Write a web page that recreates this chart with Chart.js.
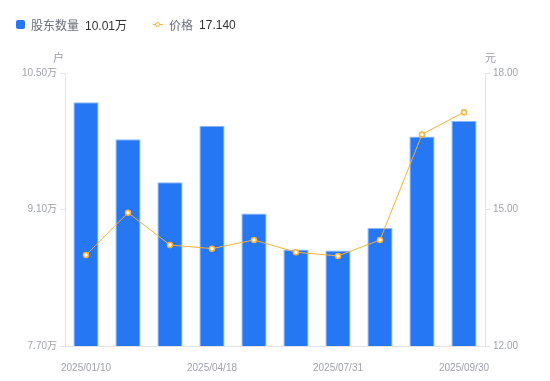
<!DOCTYPE html>
<html>
<head>
<meta charset="utf-8">
<script src="https://cdn.jsdelivr.net/npm/chart.js@4.4.1/dist/chart.umd.min.js"></script>
<style>
  html, body { margin: 0; padding: 0; background: #fff; }
  #wrap { position: relative; width: 550px; height: 381px; font-family: "Liberation Sans", "Noto Sans CJK SC", Arial, sans-serif; }
  #c { position: absolute; left: 0; top: 0; }
  #legend { position: absolute; left: 16px; top: 16px; font-size: 12px; display: flex; align-items: center; white-space: nowrap; }
  .item { display: flex; align-items: center; margin-right: 26px; }
  .name { color: #6b6e78; margin-right: 6px; font-family: "Noto Sans CJK SC", sans-serif; }
  .val { color: #333; }
  .sq { width: 9px; height: 9px; border-radius: 2px; background: #2677f3; margin-right: 6px; }
  .ln { position: relative; width: 10px; height: 9px; margin-right: 6px; }
  .ln::before { content: ""; position: absolute; left: 0; right: 0; top: 4px; height: 1px; background: #f9b034; }
  .ln::after { content: ""; position: absolute; left: 2px; top: 1.5px; width: 3px; height: 3px; border: 1.5px solid #f9b034; border-radius: 50%; background: #fff; }
  .axname { position: absolute; font-size: 11px; color: #9a9ca8; font-family: "Noto Sans CJK SC", sans-serif; }
</style>
</head>
<body>
<div id="wrap">
  <canvas id="c" width="550" height="381"></canvas>
  <div id="legend"></div>
  <div class="axname" id="nameL" style="left:53px;top:49px;"></div>
  <div class="axname" id="nameR" style="left:485px;top:49px;"></div>
</div>
<script>
// ---- data ----
const dates = ['2025/01/10','2025/02/28','2025/03/20','2025/04/18','2025/05/30','2025/06/30','2025/07/31','2025/08/20','2025/09/10','2025/09/30'];
const shownDates = ['2025/01/10','2025/04/18','2025/07/31','2025/09/30'];
const holders = [10.20, 9.82, 9.38, 9.96, 9.06, 8.69, 8.68, 8.91, 9.85, 10.01]; // 万户
const price = [14.00, 14.93, 14.22, 14.14, 14.33, 14.06, 13.98, 14.33, 16.65, 17.14];
const leftTicks = [7.70, 9.10, 10.50];
const rightTicks = [12.00, 15.00, 18.00];
const seriesNames = ['股东数量', '价格'];
const axisNames = ['户', '元'];

// ---- legend & axis names (HTML text) ----
document.getElementById('legend').innerHTML =
  '<div class="item"><span class="sq"></span><span class="name">' + seriesNames[0] + '</span><span class="val">' + holders[holders.length-1].toFixed(2) + '万</span></div>' +
  '<div class="item"><span class="ln"></span><span class="name">' + seriesNames[1] + '</span><span class="val">' + price[price.length-1].toFixed(3) + '</span></div>';
document.getElementById('nameL').textContent = axisNames[0];
document.getElementById('nameR').textContent = axisNames[1];

const tickColor = '#a0a2ad';
const axisColor = '#e3e3e6';
const tickFont = { family: '"Liberation Sans", "Noto Sans CJK SC", Arial, sans-serif', size: 10 };

new Chart(document.getElementById('c'), {
  data: {
    labels: dates,
    datasets: [
      {
        type: 'line',
        label: seriesNames[1],
        data: price,
        yAxisID: 'yR',
        borderColor: '#f9b034',
        borderWidth: 1,
        pointRadius: 2.5,
        pointBorderWidth: 1.5,
        pointBackgroundColor: '#ffffff',
        pointBorderColor: '#f9b034',
        tension: 0,
        order: 0
      },
      {
        type: 'bar',
        label: seriesNames[0],
        data: holders,
        yAxisID: 'yL',
        backgroundColor: '#2677f3',
        borderColor: '#8db8f8',
        borderWidth: { top: 1, left: 1, right: 1, bottom: 0 },
        borderSkipped: false,
        categoryPercentage: 1.0,
        barPercentage: 0.6,
        order: 1
      }
    ]
  },
  options: {
    responsive: false,
    animation: false,
    devicePixelRatio: 1,
    layout: { padding: { top: 73, left: 0, right: 0, bottom: 0 } },
    plugins: { legend: { display: false }, tooltip: { enabled: false } },
    scales: {
      x: {
        type: 'category',
        offset: true,
        grid: { display: false },
        border: { display: true, color: axisColor },
        ticks: {
          autoSkip: false, maxRotation: 0, minRotation: 0, padding: 8,
          color: tickColor, font: tickFont,
          callback: function(v, i) { const d = dates[i]; return shownDates.includes(d) ? d : ''; }
        },
        afterFit: function(s) { s.height = 35; }
      },
      yL: {
        type: 'linear', position: 'left',
        min: leftTicks[0], max: leftTicks[leftTicks.length-1],
        afterBuildTicks: function(s) { s.ticks = leftTicks.map(v => ({ value: v })); },
        grid: { drawOnChartArea: false, drawTicks: true, tickLength: 5, color: axisColor },
        border: { display: true, color: axisColor },
        ticks: { padding: 3, color: tickColor, font: tickFont, callback: v => Number(v).toFixed(2) + '万' },
        afterFit: function(s) { s.width = 65; }
      },
      yR: {
        type: 'linear', position: 'right',
        min: rightTicks[0], max: rightTicks[rightTicks.length-1],
        afterBuildTicks: function(s) { s.ticks = rightTicks.map(v => ({ value: v })); },
        grid: { drawOnChartArea: false, drawTicks: true, tickLength: 5, color: axisColor },
        border: { display: true, color: axisColor },
        ticks: { padding: 3, color: tickColor, font: tickFont, callback: v => Number(v).toFixed(2) },
        afterFit: function(s) { s.width = 65; }
      }
    }
  }
});
</script>
</body>
</html>
